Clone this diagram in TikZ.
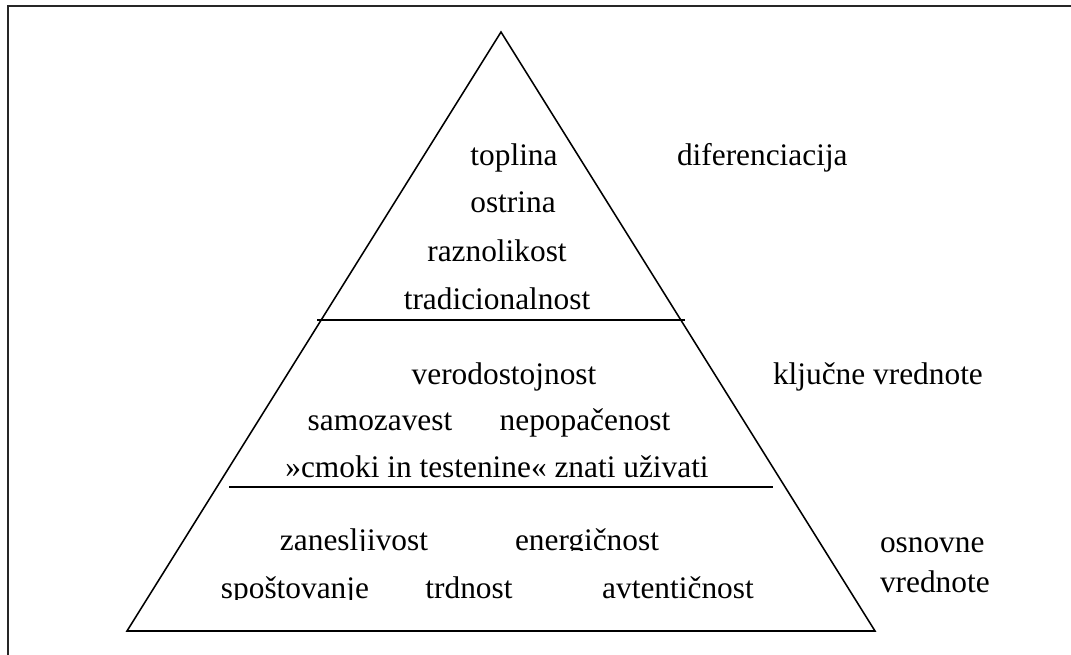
\documentclass[tikz,border=0pt]{standalone}
\usepackage{fontspec}
\setmainfont{Liberation Serif}
\usetikzlibrary{calc}
\tikzstyle{word} = [inner sep=0, outer sep=0, anchor=base,
    font=\fontsize{22.3}{26}\selectfont]
\tikzstyle{side} = [word, anchor=base west]
\tikzstyle{edge} = [draw=black, line width=1.1pt]

\begin{document}
\begin{tikzpicture}[x=0.025cm, y=-0.025cm]
\useasboundingbox (0,0) rectangle (1071,655);
\clip (0,0) rectangle (1071,655);

% 1. Frame (cut off at right and bottom)
\draw[line width=1.3pt, black!85] (8,6) rectangle (1100,690);

% 2. Pyramid
\coordinate (apex) at (501,32);
\coordinate (bl) at (127,631);
\coordinate (br) at (875,631);
\draw[edge] (bl) -- (apex) -- (br) -- cycle;
\coordinate (l1a) at (317,320);
\coordinate (l1b) at (685,320);
\coordinate (l2a) at (229,487);
\coordinate (l2b) at (773,487);
\draw[edge] (l1a) -- (l1b);
\draw[edge] (l2a) -- (l2b);

%%% TOP LAYER
\node[word] (toplina) at (514,166) {toplina};
\node[word] (ostrina) at (513,213) {ostrina};
\node[word] (raznolikost) at (497,262) {raznolikost};
\node[word] (tradicija) at (497,310) {tradicionalnost};
\node[side] (diferenc) at (677,166) {diferenciacija};

%%% MIDDLE LAYER
\node[word] (verodost) at (504,385) {verodostojnost};
\node[word] (samozav) at (380,431) {samozavest};
\node[word] (nepopac) at (585,431) {nepopačenost};
\node[word] (cmoki) at (497,477) {»cmoki in testenine« znati uživati};
\node[side] (kljucne) at (773,385) {ključne vrednote};

%%% BOTTOM LAYER
% text boxes cut at the baseline
\begin{scope}
\clip (130,495) rectangle (860,550.5);
\node[word] (zanes) at (354,550) {zanesljivost};
\node[word] (energ) at (587,550) {energičnost};
\end{scope}
\begin{scope}
\clip (130,556) rectangle (860,599);
\node[word] (spost) at (295,598) {spoštovanje};
\node[word] (trdnost) at (469,598) {trdnost};
\node[word] (avtent) at (678,598) {avtentičnost};
\end{scope}
\node[side] (osnovne) at (880,552) {osnovne};
\node[side] (vrednote) at (880,592) {vrednote};

\end{tikzpicture}
\end{document}
